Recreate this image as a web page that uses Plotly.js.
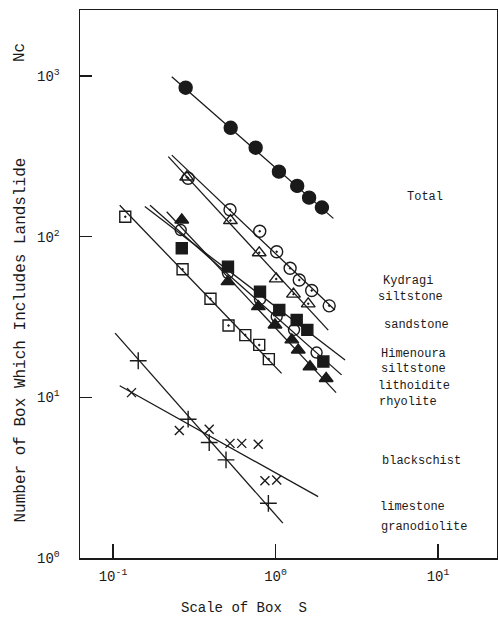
<!DOCTYPE html>
<html>
<head>
<meta charset="utf-8">
<script src="https://cdn.plot.ly/plotly-3.0.1.min.js"></script>
<style>html,body{margin:0;padding:0;background:#fff;}</style>
</head>
<body>
<div id="chart" style="width:498px;height:621px;"></div>
<script>
// ---- data (Box size S, number of boxes Nc) ----
const totalX = [0.28, 0.53, 0.755, 1.05, 1.36, 1.61, 1.93];
const totalY = [846, 476, 358, 254, 207, 175, 152];
const totalLineX = [0.23, 2.27];
const totalLineY = [990, 130];

const kydragiX = [0.29, 0.525, 0.80, 1.017, 1.23, 1.40, 1.67, 2.14];
const kydragiY = [231, 147, 108, 80.6, 63.6, 53.8, 46.2, 37.1];
const kydragiLineX = [0.23, 2.32];
const kydragiLineY = [322, 35.0];

const sandstoneX = [0.284, 0.528, 0.794, 1.01, 1.29, 1.59];
const sandstoneY = [235, 126, 79.4, 54.6, 43.9, 38.2];
const sandstoneLineX = [0.219, 2.11];
const sandstoneLineY = [315, 26.2];

const himenouraX = [0.265, 0.51, 0.803, 1.055, 1.35, 1.57, 1.97];
const himenouraY = [84.8, 65.1, 45.5, 35.0, 30.3, 26.3, 16.7];
const himenouraLineX = [0.157, 2.68];
const himenouraLineY = [154, 17.1];

const lithoiditeX = [0.261, 0.51, 0.803, 1.017, 1.30, 1.79];
const lithoiditeY = [110, 59.4, 40.8, 31.8, 26.3, 19.0];
const lithoiditeLineX = [0.169, 2.55];
const lithoiditeLineY = [157, 13.8];

const rhyoliteX = [0.265, 0.51, 0.784, 0.993, 1.26, 1.38, 1.63, 2.05];
const rhyoliteY = [127, 52.5, 36.7, 28.2, 22.8, 19.7, 15.5, 13.1];
const rhyoliteLineX = [0.214, 2.36];
const rhyoliteLineY = [143, 10.7];

const blackschistX = [0.119, 0.268, 0.398, 0.514, 0.652, 0.794, 0.91];
const blackschistY = [133, 62.7, 41.1, 28.0, 24.4, 21.2, 17.3];
const blackschistLineX = [0.110, 1.09];
const blackschistLineY = [157, 14.1];

const limestoneX = [0.143, 0.29, 0.391, 0.496, 0.904];
const limestoneY = [16.9, 7.31, 5.23, 4.08, 2.19];
const limestoneLineX = [0.103, 1.11];
const limestoneLineY = [25.1, 1.65];

const granodioliteX = [0.13, 0.256, 0.391, 0.525, 0.62, 0.783, 0.861, 1.017];
const granodioliteY = [10.7, 6.21, 6.33, 5.17, 5.17, 5.10, 3.03, 3.06];
const granodioliteLineX = [0.110, 1.83];
const granodioliteLineY = [11.8, 2.41];

const xTickVals = [0.1, 1, 10];
const xTickText = ['10<sup>-1</sup>', '10<sup>0</sup>', '10<sup>1</sup>'];
const yTickVals = [1, 10, 100, 1000];
const yTickText = ['10<sup>0</sup>', '10<sup>1</sup>', '10<sup>2</sup>', '10<sup>3</sup>'];

const labelText = ['Total', 'Kydragi', 'siltstone', 'sandstone', 'Himenoura', 'siltstone',
  'lithoidite', 'rhyolite', 'blackschist', 'limestone', 'granodiolite'];
const xTitle = 'Scale of Box  S';
const yTitle = 'Number of Box Which Includes Landslide';
const yTitleSymbol = 'Nc';

// ---- build traces ----
const ink = '#1a1a1a';
const FONT = '"Liberation Mono", "DejaVu Sans Mono", monospace';
const series = [
  {name: 'Total', x: totalX, y: totalY, lx: totalLineX, ly: totalLineY, symbol: 'circle', size: 13},
  {name: 'Kydragi siltstone', x: kydragiX, y: kydragiY, lx: kydragiLineX, ly: kydragiLineY, symbol: 'circle-open-dot', size: 12},
  {name: 'sandstone', x: sandstoneX, y: sandstoneY, lx: sandstoneLineX, ly: sandstoneLineY, symbol: 'triangle-up-open-dot', size: 12},
  {name: 'Himenoura siltstone', x: himenouraX, y: himenouraY, lx: himenouraLineX, ly: himenouraLineY, symbol: 'square', size: 11},
  {name: 'lithoidite', x: lithoiditeX, y: lithoiditeY, lx: lithoiditeLineX, ly: lithoiditeLineY, symbol: 'circle-open', size: 11},
  {name: 'rhyolite', x: rhyoliteX, y: rhyoliteY, lx: rhyoliteLineX, ly: rhyoliteLineY, symbol: 'triangle-up', size: 12},
  {name: 'blackschist', x: blackschistX, y: blackschistY, lx: blackschistLineX, ly: blackschistLineY, symbol: 'square-open-dot', size: 11},
  {name: 'limestone', x: limestoneX, y: limestoneY, lx: limestoneLineX, ly: limestoneLineY, symbol: 'cross-thin-open', size: 12},
  {name: 'granodiolite', x: granodioliteX, y: granodioliteY, lx: granodioliteLineX, ly: granodioliteLineY, symbol: 'x-thin-open', size: 9}
];

const traces = [];
series.forEach(s => {
  traces.push({x: s.lx, y: s.ly, mode: 'lines', type: 'scatter', name: s.name + ' fit',
    line: {color: ink, width: 1.3}, hoverinfo: 'skip', showlegend: false});
});
series.forEach(s => {
  traces.push({x: s.x, y: s.y, mode: 'markers', type: 'scatter', name: s.name,
    marker: {symbol: s.symbol, size: s.size, color: ink, line: {color: ink, width: 1.4}},
    showlegend: false});
});

// positions of texts (page pixels)
const W = 498, H = 621, L = 80, R = 1, T = 10, B = 63;
const pw = W - L - R, ph = H - T - B;
const px2x = p => (p - L) / pw;
const px2y = p => 1 - (p - T) / ph;

const labelPos = [
  [425, 197], [408, 281], [410, 297], [416, 325], [413, 354], [413, 369],
  [414, 386], [408, 402], [421, 461], [412, 507], [424, 527]
];
const annotations = labelText.map((t, i) => ({
  text: t, xref: 'paper', yref: 'paper',
  x: px2x(labelPos[i][0]), y: px2y(labelPos[i][1]),
  showarrow: false, font: {family: FONT, size: 12, color: ink},
  xanchor: 'center', yanchor: 'middle'
}));
annotations.push({
  text: xTitle, xref: 'paper', yref: 'paper', x: px2x(244), y: px2y(608),
  showarrow: false, font: {family: FONT, size: 14, color: ink}, xanchor: 'center', yanchor: 'middle'
});
annotations.push({
  text: yTitle, xref: 'paper', yref: 'paper', x: px2x(20), y: px2y(525),
  textangle: -90, showarrow: false, font: {family: FONT, size: 16, color: ink},
  xanchor: 'center', yanchor: 'bottom'
});
annotations.push({
  text: yTitleSymbol, xref: 'paper', yref: 'paper', x: px2x(20), y: px2y(53),
  textangle: -90, showarrow: false, font: {family: FONT, size: 16, color: ink},
  xanchor: 'center', yanchor: 'middle'
});

const layout = {
  width: W, height: H,
  margin: {l: L, r: R, t: T, b: B},
  paper_bgcolor: '#fff', plot_bgcolor: '#fff',
  showlegend: false,
  font: {family: FONT, color: ink},
  xaxis: {
    type: 'log', range: [-1.203, 1.363],
    tickvals: xTickVals, ticktext: xTickText,
    ticks: 'inside', ticklen: 14, tickwidth: 1.3, tickcolor: ink,
    ticklabelstandoff: 5,
    showline: true, linecolor: ink, linewidth: 1.5, mirror: true,
    showgrid: false, zeroline: false, automargin: false,
    tickfont: {family: FONT, size: 14, color: ink}
  },
  yaxis: {
    type: 'log', range: [0, 3.411],
    tickvals: yTickVals, ticktext: yTickText,
    ticks: 'inside', ticklen: 12, tickwidth: 1.3, tickcolor: ink,
    ticklabelstandoff: 16,
    showline: true, linecolor: ink, linewidth: 1.5, mirror: true,
    showgrid: false, zeroline: false, automargin: false,
    tickfont: {family: FONT, size: 14, color: ink}
  },
  annotations: annotations
};

Plotly.newPlot('chart', traces, layout, {staticPlot: true, displayModeBar: false});
</script>
</body>
</html>
